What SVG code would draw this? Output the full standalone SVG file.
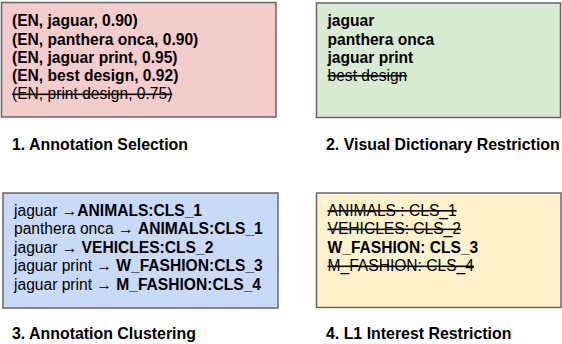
<svg xmlns="http://www.w3.org/2000/svg" width="562" height="344" viewBox="0 0 562 344">
<style>
.box{stroke:#666666;stroke-width:1.5}
text{font-family:"Liberation Sans",Arial,Helvetica,sans-serif;font-size:15.6px;fill:#000}
.b{font-weight:bold}
.s{text-decoration:line-through}
.lbl{font-weight:bold;font-size:15.9px}
</style>
<rect width="562" height="344" fill="#ffffff"/>
<g id="node1">
<rect class="box" x="1.5" y="2.5" width="274.5" height="114.5" fill="#f4cccc"/>
<text class="b" x="12" y="26">(EN, jaguar, 0.90)</text>
<text class="b" x="12" y="44.5">(EN, panthera onca, 0.90)</text>
<text class="b" x="12" y="62.5">(EN, jaguar print, 0.95)</text>
<text class="b" x="12" y="80.5">(EN, best design, 0.92)</text>
<text class="s" x="12" y="99">(EN, print design, 0.75)</text>
</g>
<g id="label1"><text class="lbl" x="12" y="150">1. Annotation Selection</text></g>
<g id="node2">
<rect class="box" x="316.5" y="3" width="244" height="114.5" fill="#d9ead3"/>
<text class="b" x="327.5" y="26">jaguar</text>
<text class="b" x="327.5" y="44.5">panthera onca</text>
<text class="b" x="327.5" y="62.5">jaguar print</text>
<text class="s" x="327.5" y="80.5">best design</text>
</g>
<g id="label2"><text class="lbl" x="326" y="150">2. Visual Dictionary Restriction</text></g>
<g id="node3">
<rect class="box" x="3" y="193" width="275" height="115" fill="#c9daf8"/>
<text x="14" y="215.5">jaguar →<tspan class="b">ANIMALS:CLS_1</tspan></text>
<text x="14" y="234">panthera onca → <tspan class="b">ANIMALS:CLS_1</tspan></text>
<text x="14" y="252.5">jaguar → <tspan class="b">VEHICLES:CLS_2</tspan></text>
<text x="14" y="271">jaguar print → <tspan class="b">W_FASHION:CLS_3</tspan></text>
<text x="14" y="289.5">jaguar print → <tspan class="b">M_FASHION:CLS_4</tspan></text>
</g>
<g id="label3"><text class="lbl" x="12" y="339">3. Annotation Clustering</text></g>
<g id="node4">
<rect class="box" x="316.5" y="193" width="244.5" height="114.5" fill="#fff2cc"/>
<text class="s" x="327.5" y="215.5">ANIMALS : CLS_1</text>
<text class="s" x="327.5" y="234">VEHICLES: CLS_2</text>
<text class="b" x="327.5" y="252.5">W_FASHION: CLS_3</text>
<text class="s" x="327.5" y="271">M_FASHION: CLS_4</text>
</g>
<g id="label4"><text class="lbl" x="326" y="339">4. L1 Interest Restriction</text></g>
<g id="connectors"></g>
</svg>
